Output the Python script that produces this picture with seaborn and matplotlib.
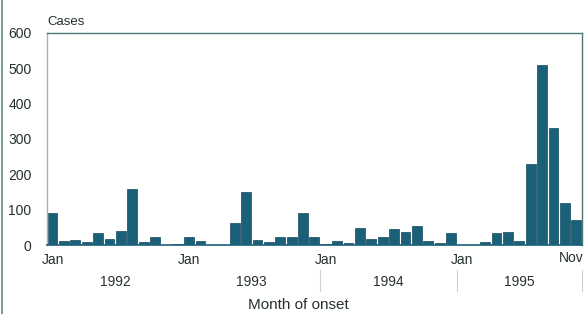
import matplotlib
matplotlib.use("Agg")
import matplotlib.pyplot as plt
import matplotlib.transforms as mtransforms
import seaborn as sns
import pandas as pd

# monthly cases, Jan 1992 .. Nov 1995
cases_1992 = [90, 10, 14, 8, 33, 18, 40, 159, 8, 22, 1, 3]
cases_1993 = [22, 10, 1, 0, 62, 149, 14, 8, 24, 24, 90, 24]
cases_1994 = [2, 11, 5, 49, 17, 24, 45, 38, 55, 12, 7, 34]
cases_1995 = [1, 1, 8, 33, 36, 10, 229, 510, 332, 120, 71]
years = ["1992", "1993", "1994", "1995"]
month_names = ["Jan", "Feb", "Mar", "Apr", "May", "Jun",
               "Jul", "Aug", "Sep", "Oct", "Nov", "Dec"]
tick_labels = {0: "Jan", 12: "Jan", 24: "Jan", 36: "Jan"}
last_label = "Nov"

cases = cases_1992 + cases_1993 + cases_1994 + cases_1995
months = [f"{month_names[i % 12]} {years[i // 12]}" for i in range(len(cases))]
df = pd.DataFrame({"month": months, "cases": cases})

sns.set_style("white")
plt.rcParams["font.family"] = ["Liberation Sans", "DejaVu Sans"]
text_col = "#263030"
frame_col = "#4f7474"

fig = plt.figure(figsize=(5.86, 3.14), dpi=100)
ax = fig.add_axes([0.080, 0.2197, 0.913, 0.6753])

sns.barplot(data=df, x="month", y="cases", order=months, color="#1b6079",
            saturation=1, width=0.86, edgecolor="#12485c", linewidth=0.5, ax=ax)

ax.set_xlim(-0.5, len(cases) - 0.5)
ax.set_ylim(0, 600)
ax.set_yticks(range(0, 601, 100))
ax.set_xticks(list(tick_labels.keys()))
ax.set_xticklabels(list(tick_labels.values()))
ax.tick_params(axis="both", length=0, labelsize=10, colors=text_col)
ax.tick_params(axis="y", pad=11)
ax.tick_params(axis="x", pad=6)
ax.set_xlabel("")
ax.set_ylabel("")

# last month label, kept inside the picture
ax.text(1.0, -0.03, last_label, transform=ax.transAxes + mtransforms.ScaledTranslation(
    2 / 100, 0, fig.dpi_scale_trans), fontsize=10, color=text_col,
    ha="right", va="top")

for side in ["top", "right", "left"]:
    ax.spines[side].set_color(frame_col)
    ax.spines[side].set_linewidth(1.0)
ax.spines["left"].set_color("#9fb5b5")
ax.spines["bottom"].set_color("#1b6079")
ax.spines["bottom"].set_linewidth(1.2)

ax.text(0.0, 1.025, "Cases", transform=ax.transAxes, fontsize=9.5,
        color=text_col, ha="left", va="bottom")

trans = mtransforms.blended_transform_factory(ax.transData, ax.transAxes)
bounds = [-0.5, 11.5, 23.5, 35.5, len(cases) - 0.5]
for i, yr in enumerate(years):
    mid = (bounds[i] + bounds[i + 1]) / 2
    ax.text(mid, -0.175, yr, transform=trans, fontsize=10, color=text_col,
            ha="center", va="center")
for b in bounds[2:]:
    ax.plot([b, b], [-0.12, -0.215], transform=trans, color="#c8d2d2",
            linewidth=0.8, clip_on=False)

ax.text(0.47, -0.285, "Month of onset", transform=ax.transAxes, fontsize=11,
        color=text_col, ha="center", va="center")

fig.add_artist(plt.Line2D([0.003, 0.003], [0, 1], transform=fig.transFigure,
                          color="#5f8f8a", linewidth=1.2))

fig.savefig("out.png", dpi=100)
